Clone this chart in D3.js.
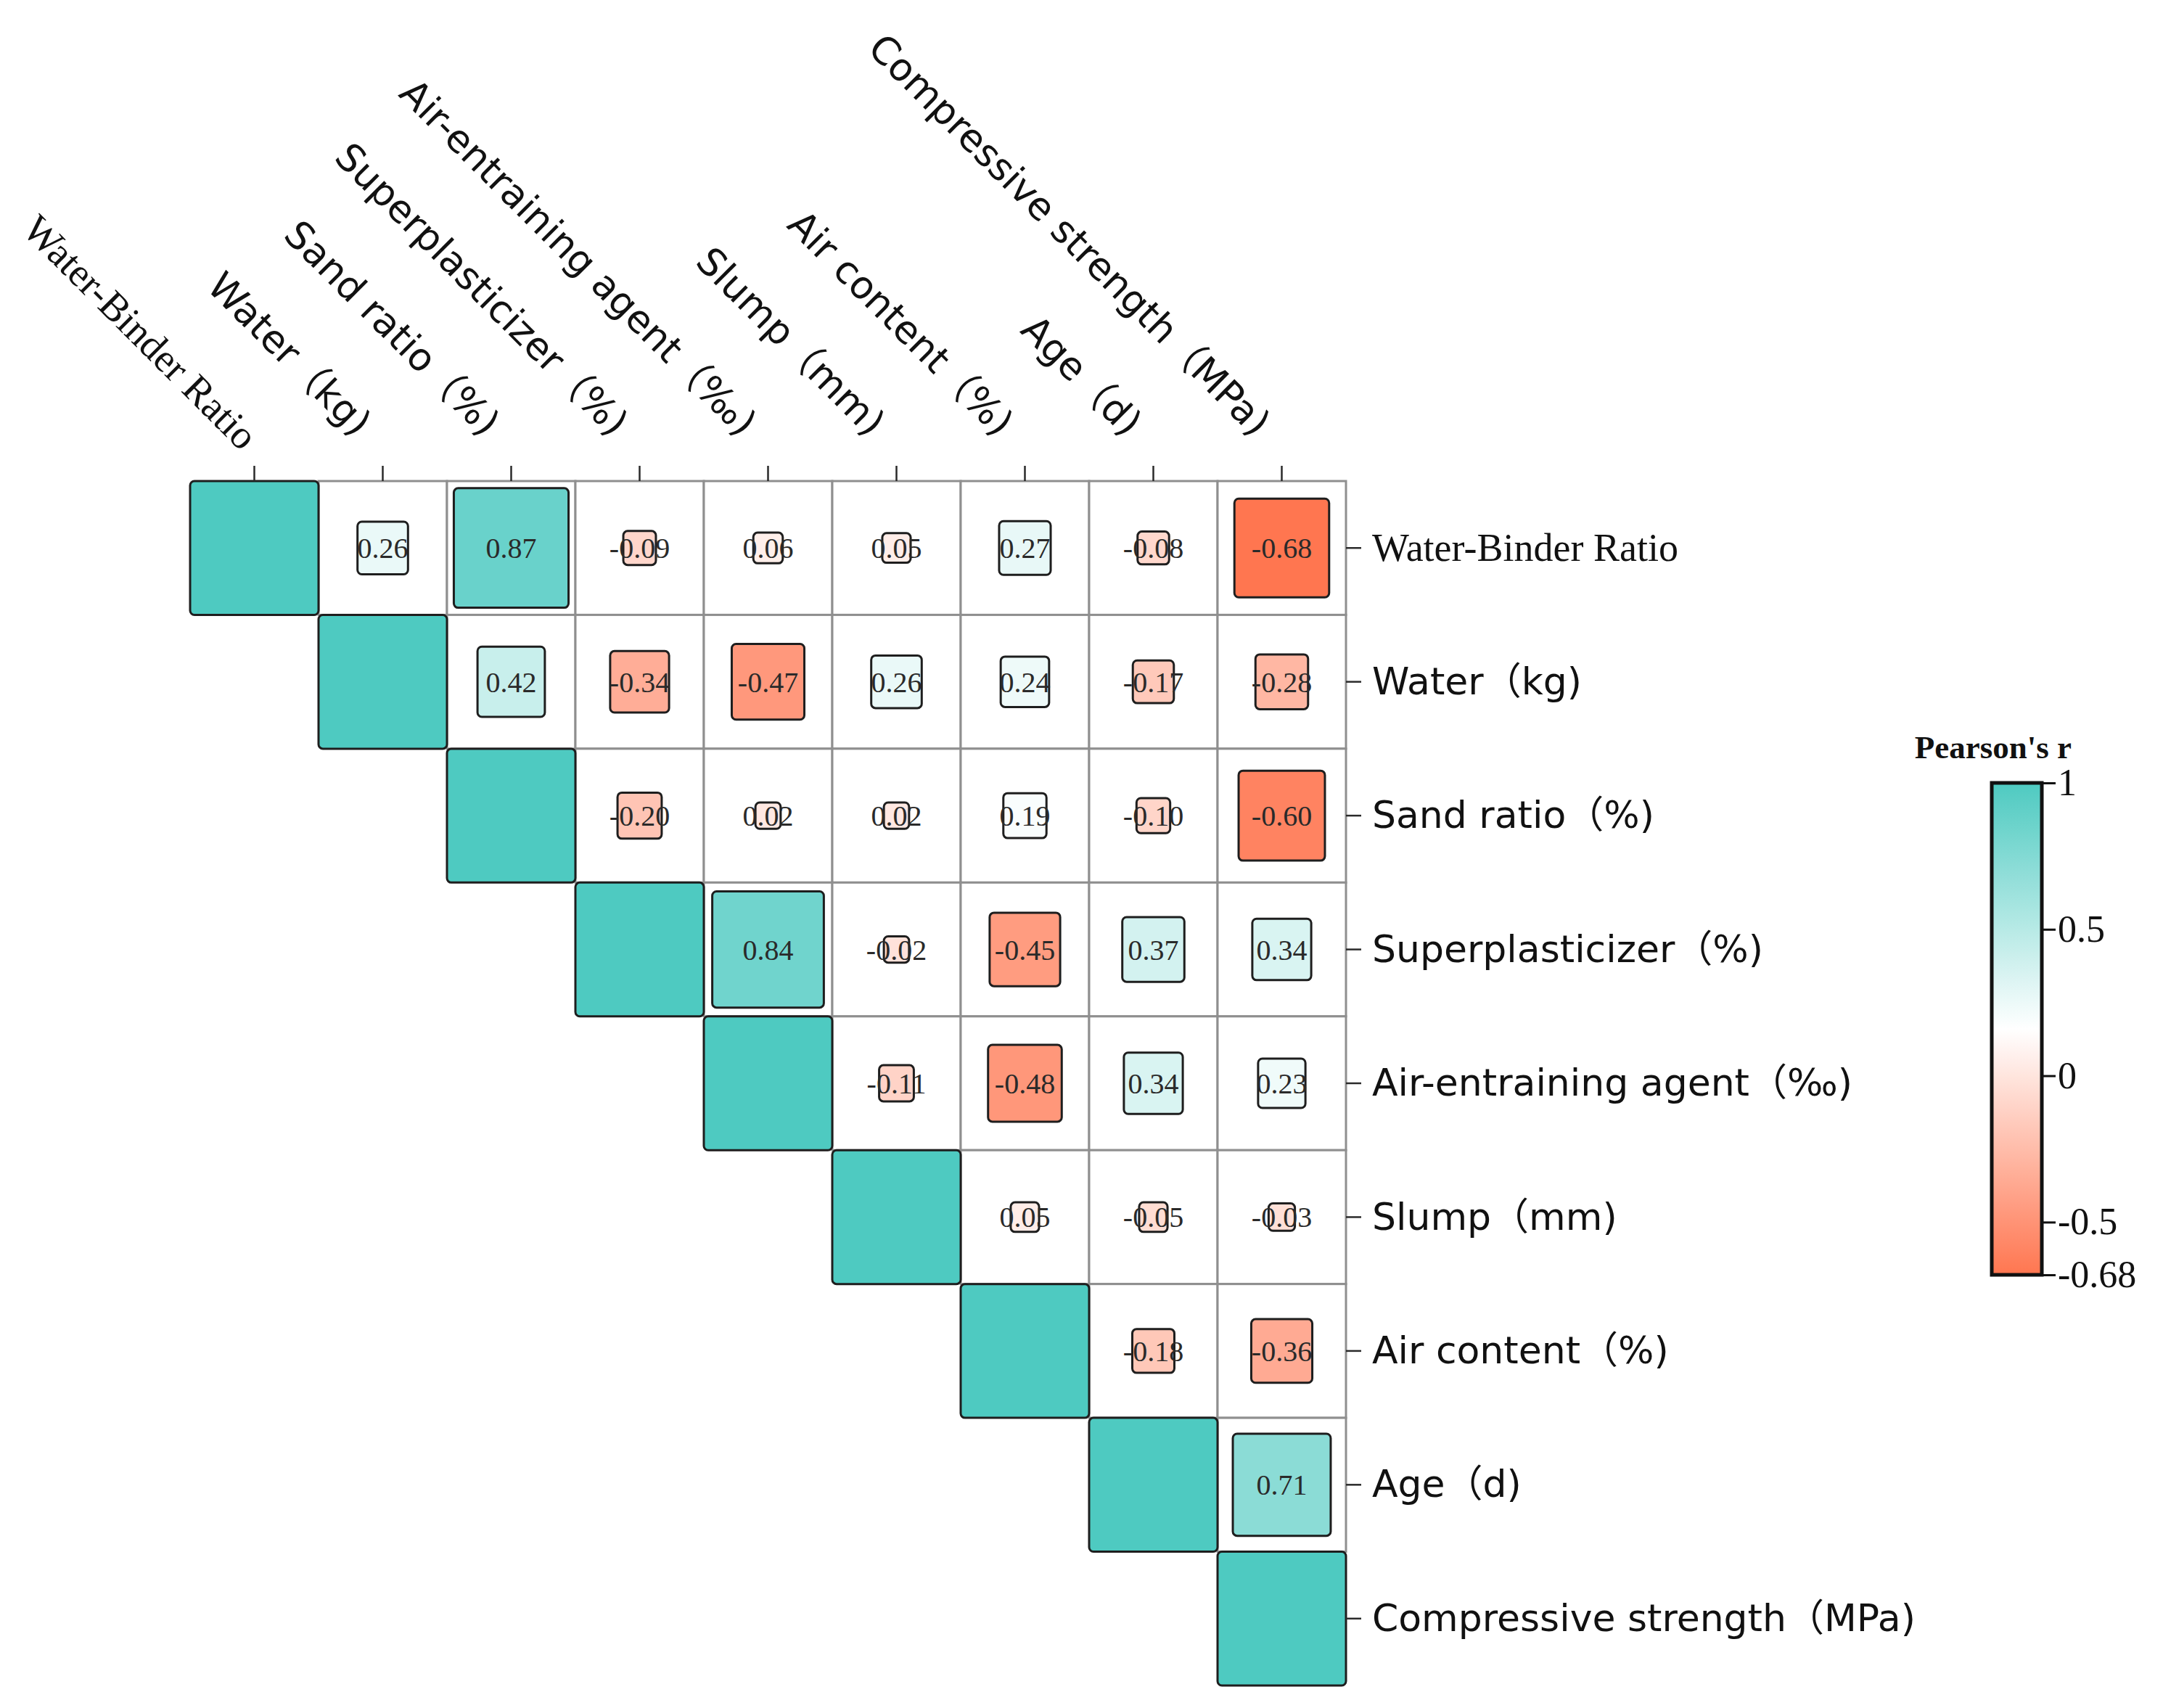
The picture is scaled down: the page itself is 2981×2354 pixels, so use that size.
<!DOCTYPE html>
<html>
<head>
<meta charset="utf-8">
<script src="https://cdn.jsdelivr.net/npm/d3@7"></script>
<style>
  html, body { margin: 0; padding: 0; background: #ffffff; }
  svg { display: block; }
</style>
</head>
<body>
<svg id="chart" width="2981" height="2354"></svg>
<script>
// ---------------- DATA ----------------
const variables = [
  "Water-Binder Ratio",
  "Water（kg)",
  "Sand ratio（%)",
  "Superplasticizer（%)",
  "Air-entraining agent（‰)",
  "Slump（mm)",
  "Air content（%)",
  "Age（d)",
  "Compressive strength（MPa)"
];
// upper-triangle rows, each starting at the diagonal
const row0 = [1, 0.26, 0.87, -0.09, 0.06, 0.05, 0.27, -0.08, -0.68];
const row1 = [1, 0.42, -0.34, -0.47, 0.26, 0.24, -0.17, -0.28];
const row2 = [1, -0.20, 0.02, 0.02, 0.19, -0.10, -0.60];
const row3 = [1, 0.84, -0.02, -0.45, 0.37, 0.34];
const row4 = [1, -0.11, -0.48, 0.34, 0.23];
const row5 = [1, 0.05, -0.05, -0.03];
const row6 = [1, -0.18, -0.36];
const row7 = [1, 0.71];
const row8 = [1];
const colorbarTicks = [1, 0.5, 0, -0.5, -0.68];
const colorbarTitle = "Pearson's r";
const serifLabels = ["Water-Binder Ratio"];

// ---------------- BUILD CELLS ----------------
const rows = [row0, row1, row2, row3, row4, row5, row6, row7, row8];
const cells = [];
rows.forEach((r, i) => r.forEach((v, k) => cells.push({ i, j: i + k, v })));

// ---------------- SCALES ----------------
const svg = d3.select("#chart");
const idx = d3.range(variables.length);
const x = d3.scaleBand().domain(idx).range([262, 1855]).padding(0);
const y = d3.scaleBand().domain(idx).range([663, 2323]).padding(0);
const vMin = d3.min(cells, d => d.v), vMax = 1;
const color = d3.scaleLinear()
  .domain([vMin, (vMin + vMax) / 2, vMax])
  .range(["#ff7650", "#ffffff", "#4ecac1"]);
const sizeS = d3.scaleLinear().domain([0, 1]).range([0.18, 1]);
const fmt = v => (v < 0 ? "-" : "") + Math.abs(v).toFixed(2);

const SANS = "'DejaVu Sans', 'Noto Sans CJK SC', sans-serif";
const SERIF = "'Liberation Serif', 'Times New Roman', 'Noto Sans CJK SC', serif";
const isSerif = i => serifLabels.includes(variables[i]);

// ---------------- GRID (upper triangle) ----------------
svg.append("g").selectAll("rect")
  .data(cells.filter(d => d.j > d.i))
  .join("rect")
  .attr("x", d => x(d.j)).attr("y", d => y(d.i))
  .attr("width", x.bandwidth()).attr("height", y.bandwidth())
  .attr("fill", "#ffffff").attr("stroke", "#8f8f8f").attr("stroke-width", 3);

// ---------------- SQUARES ----------------
svg.append("g").selectAll("rect")
  .data(cells)
  .join("rect")
  .attr("x", d => x(d.j) + x.bandwidth() * (1 - sizeS(Math.abs(d.v))) / 2)
  .attr("y", d => y(d.i) + y.bandwidth() * (1 - sizeS(Math.abs(d.v))) / 2)
  .attr("width", d => x.bandwidth() * sizeS(Math.abs(d.v)))
  .attr("height", d => y.bandwidth() * sizeS(Math.abs(d.v)))
  .attr("rx", 6).attr("ry", 6)
  .attr("fill", d => color(d.v))
  .attr("stroke", "#1e1e1e").attr("stroke-width", 3);

// ---------------- VALUE LABELS ----------------
svg.append("g").selectAll("text")
  .data(cells.filter(d => d.j > d.i))
  .join("text")
  .attr("x", d => x(d.j) + x.bandwidth() / 2)
  .attr("y", d => y(d.i) + y.bandwidth() / 2)
  .attr("dy", "0.35em")
  .attr("text-anchor", "middle")
  .attr("font-family", SERIF).attr("font-size", 40)
  .attr("fill", "#2a2a2a")
  .text(d => fmt(d.v));

// ---------------- TOP AXIS ----------------
const topAxis = svg.append("g")
  .attr("transform", `translate(0,${y.range()[0]})`)
  .call(d3.axisTop(x).tickSize(21).tickFormat(""));
topAxis.select(".domain").remove();
topAxis.selectAll(".tick line").attr("stroke", "#2a2a2a").attr("stroke-width", 2.5);

svg.append("g").selectAll("text")
  .data(idx)
  .join("text")
  .attr("transform", i => {
    const cx = x(i) + x.bandwidth() / 2;
    const px = isSerif(i) ? cx - 18 : cx - 38;
    const py = isSerif(i) ? 623 : 604;
    return `translate(${px},${py}) rotate(45)`;
  })
  .attr("text-anchor", "end")
  .attr("font-family", i => isSerif(i) ? SERIF : SANS)
  .attr("font-size", i => isSerif(i) ? 55 : 52.5)
  .attr("fill", "#111")
  .text(i => variables[i]);

// ---------------- RIGHT AXIS ----------------
const rightAxis = svg.append("g")
  .attr("transform", `translate(${x.range()[1]},0)`)
  .call(d3.axisRight(y).tickSize(21).tickFormat(""));
rightAxis.select(".domain").remove();
rightAxis.selectAll(".tick line").attr("stroke", "#2a2a2a").attr("stroke-width", 2.5);

svg.append("g").selectAll("text")
  .data(idx)
  .join("text")
  .attr("x", x.range()[1] + 36)
  .attr("y", i => y(i) + y.bandwidth() / 2)
  .attr("dy", "0.33em")
  .attr("font-family", i => isSerif(i) ? SERIF : SANS)
  .attr("font-size", i => isSerif(i) ? 54 : 52)
  .attr("fill", "#111")
  .text(i => variables[i]);

// ---------------- COLOR BAR ----------------
const cbX = 2745, cbW = 69, cbTop = 1079, cbBot = 1757;
const cbScale = d3.scaleLinear().domain([vMin, vMax]).range([cbBot, cbTop]);
const defs = svg.append("defs");
const grad = defs.append("linearGradient")
  .attr("id", "cbgrad").attr("x1", 0).attr("y1", 1).attr("x2", 0).attr("y2", 0);
grad.selectAll("stop")
  .data(d3.range(0, 1.0001, 0.05))
  .join("stop")
  .attr("offset", t => t)
  .attr("stop-color", t => color(vMin + t * (vMax - vMin)));

svg.append("rect")
  .attr("x", cbX).attr("y", cbTop).attr("width", cbW).attr("height", cbBot - cbTop)
  .attr("fill", "url(#cbgrad)").attr("stroke", "#111").attr("stroke-width", 5);

const cbAxis = svg.append("g")
  .attr("transform", `translate(${cbX + cbW + 2},0)`)
  .call(d3.axisRight(cbScale).tickValues(colorbarTicks).tickSize(17).tickPadding(3)
    .tickFormat(v => String(v)));
cbAxis.select(".domain").remove();
cbAxis.selectAll(".tick line").attr("stroke", "#111").attr("stroke-width", 3);
cbAxis.selectAll(".tick text")
  .attr("font-family", SERIF).attr("font-size", 52).attr("fill", "#111");

svg.append("text")
  .attr("x", 2855).attr("y", 1045)
  .attr("text-anchor", "end")
  .attr("font-family", SERIF).attr("font-weight", "bold").attr("font-size", 45)
  .attr("fill", "#111")
  .text(colorbarTitle);
</script>
</body>
</html>
